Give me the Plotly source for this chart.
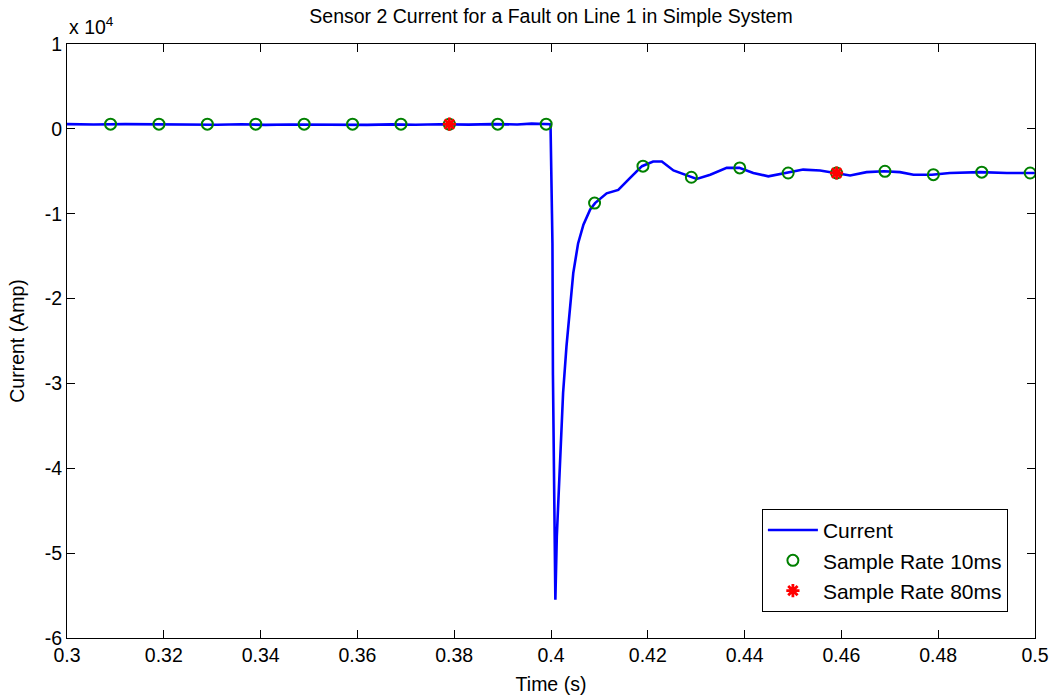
import plotly.graph_objects as go

# ---- data ----
time_s = [0.3000, 0.3050, 0.3055, 0.3120, 0.3180, 0.3220, 0.3260, 0.3310, 0.3360,
          0.3410, 0.3460, 0.3520, 0.3570, 0.3620, 0.3670, 0.3720, 0.3770, 0.3830,
          0.3880, 0.3930, 0.3960, 0.3985, 0.3999,
          0.4002, 0.4003, 0.4004, 0.4006, 0.4008, 0.4009, 0.4012, 0.4016, 0.4019,
          0.4025, 0.4032, 0.4039, 0.4046, 0.4056, 0.4067, 0.4081, 0.4091, 0.4115,
          0.4139, 0.4163, 0.4188, 0.4211, 0.4229, 0.4253, 0.4267, 0.4289, 0.4301,
          0.4329, 0.4363, 0.4389, 0.4418, 0.4449, 0.4487, 0.4521, 0.4556, 0.4587,
          0.4618, 0.4652, 0.4688, 0.4721, 0.4749, 0.4787, 0.4824, 0.4887, 0.4942,
          0.5000]
current_amp = [560, 600, 520, 560, 540, 460, 520, 480, 540,
               470, 520, 480, 530, 470, 530, 490, 540, 500,
               560, 520, 620, 560, 550,
               -10000, -13500, -29000, -43000, -55500, -55500, -48000, -43000, -38000,
               -31100, -25600, -20900, -17000, -13500, -11300, -9500, -8750, -7600,
               -7200, -5800, -4400, -3850, -3850, -4900, -5200, -5700, -5900,
               -5400, -4600, -4600, -5200, -5600, -5200, -4800, -4900, -5200,
               -5500, -5100, -5000, -5100, -5400, -5400, -5200, -5100, -5200,
               -5200]

sample10_t = [0.309, 0.319, 0.329, 0.339, 0.349, 0.359, 0.369, 0.379, 0.389, 0.399,
              0.409, 0.419, 0.429, 0.439, 0.449, 0.459, 0.469, 0.479, 0.489, 0.499]
sample10_v = [550, 550, 550, 550, 550, 550, 550, 550, 550, 550,
              -8750, -4400, -5700, -4600, -5200, -5200, -5000, -5400, -5100, -5200]

sample80_t = [0.379, 0.459]
sample80_v = [550, -5200]

x_ticks = [0.3, 0.32, 0.34, 0.36, 0.38, 0.4, 0.42, 0.44, 0.46, 0.48, 0.5]
x_tick_text = ["0.3", "0.32", "0.34", "0.36", "0.38", "0.4", "0.42", "0.44", "0.46", "0.48", "0.5"]
y_ticks_1e4 = [1, 0, -1, -2, -3, -4, -5, -6]
y_scale = 1e4

FONT = "Liberation Sans, Arial, sans-serif"
FS = 19.5

W, H = 1051, 698

fig = go.Figure()
fig.add_trace(go.Scatter(x=time_s, y=current_amp, mode="lines", name="Current",
                         line=dict(color="rgb(0,0,255)", width=2.6)))
fig.add_trace(go.Scatter(x=sample10_t, y=sample10_v, mode="markers", name="Sample Rate 10ms",
                         marker=dict(symbol="circle-open", size=11, color="rgb(0,128,0)",
                                     line=dict(width=2, color="rgb(0,128,0)"))))
fig.add_trace(go.Scatter(x=sample80_t, y=sample80_v, mode="markers", name="Sample Rate 80ms",
                         marker=dict(symbol="asterisk-open", size=11, color="rgb(255,0,0)",
                                     line=dict(width=2.8, color="rgb(255,0,0)"))))

fig.update_layout(
    width=W, height=H,
    paper_bgcolor="white", plot_bgcolor="white",
    margin=dict(l=67, r=16, t=44, b=60, autoexpand=False),
    font=dict(family=FONT, size=FS, color="black"),
    title=dict(text="Sensor 2 Current for a Fault on Line 1 in Simple System",
               x=(67 + 968 / 2) / W, xanchor="center",
               y=1 - 16 / H, yanchor="middle",
               font=dict(family=FONT, size=FS, color="black")),
    showlegend=True,
    legend=dict(x=0.972, y=0.044, xanchor="right", yanchor="bottom",
                bgcolor="white", bordercolor="black", borderwidth=1,
                font=dict(family=FONT, size=21, color="black"),
                itemsizing="trace", itemwidth=50),
)

fig.update_xaxes(range=[0.3, 0.5], tickvals=x_ticks, ticktext=x_tick_text,
                 ticks="inside", ticklen=8, tickwidth=1, tickcolor="black",
                 showline=True, linecolor="black", linewidth=1, mirror="allticks",
                 showgrid=False, zeroline=False, automargin=False,
                 title=dict(text="Time (s)", standoff=11, font=dict(size=FS)))
fig.update_yaxes(range=[-6e4, 1e4], tickvals=[v * y_scale for v in y_ticks_1e4],
                 ticktext=[str(v) for v in y_ticks_1e4],
                 ticks="inside", ticklen=8, tickwidth=1, tickcolor="black",
                 showline=True, linecolor="black", linewidth=1, mirror="allticks",
                 showgrid=False, zeroline=False, automargin=False,
                 title=dict(text="Current (Amp)", standoff=14, font=dict(size=FS)))

fig.add_annotation(text="x 10<sup>4</sup>", xref="paper", yref="paper",
                   x=0.0, y=1.0, xanchor="left", yanchor="bottom", yshift=4,
                   showarrow=False, font=dict(family=FONT, size=FS, color="black"))

fig.write_html("out.html", config={"displayModeBar": False},
               post_script="document.body.style.margin='0px';")
